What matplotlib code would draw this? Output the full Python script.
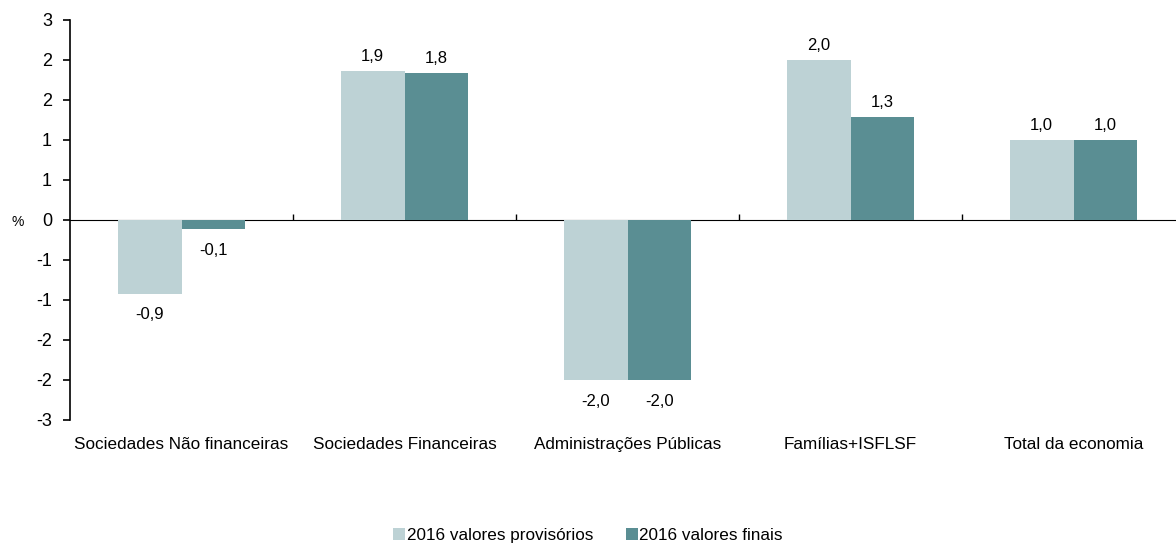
import numpy as np
import matplotlib.pyplot as plt
from matplotlib.ticker import FuncFormatter

plt.rcParams['font.family'] = ['Liberation Sans', 'DejaVu Sans']

categories = ["Sociedades Não financeiras", "Sociedades Financeiras",
              "Administrações Públicas", "Famílias+ISFLSF", "Total da economia"]
provisorios = [-0.92, 1.86, -2.0, 2.0, 1.0]
finais = [-0.11, 1.84, -2.0, 1.29, 1.0]
series_names = ["2016 valores provisórios", "2016 valores finais"]

c_light = "#BDD2D5"
c_dark = "#5A8E93"

fig = plt.figure(figsize=(11.76, 5.44), dpi=100)
# axes spans slightly past the right edge, like the original
ax = fig.add_axes([70 / 1176, 1 - 420 / 544, 1115 / 1176, 400 / 544])

x = np.arange(len(categories))
w = 0.285
b1 = ax.bar(x, provisorios, width=-w, align='edge', color=c_light)
b2 = ax.bar(x, finais, width=w, align='edge', color=c_dark)

for bars, vals in ((b1, provisorios), (b2, finais)):
    for r, v in zip(bars, vals):
        cx = r.get_x() + r.get_width() / 2
        lab = f"{v:.1f}".replace(".", ",")
        if v >= 0:
            ax.annotate(lab, (cx, v), xytext=(0, 5), textcoords='offset points',
                        ha='center', va='bottom', fontsize=12)
        else:
            ax.annotate(lab, (cx, v), xytext=(0, -10), textcoords='offset points',
                        ha='center', va='top', fontsize=12)

ax.set_xlim(-0.5, len(categories) - 0.5)
ax.set_ylim(-2.5, 2.5)
ax.set_yticks(np.arange(-2.5, 2.51, 0.5))
ax.yaxis.set_major_formatter(FuncFormatter(
    lambda v, p: str(int(np.sign(v) * np.floor(abs(v) + 0.5)))))
ax.tick_params(axis='y', direction='out', length=5, width=1.2, labelsize=13, pad=8)

ax.set_xticks(x)
ax.set_xticklabels(categories, fontsize=12.3)
ax.tick_params(axis='x', length=0, pad=12)

for s in ('top', 'right', 'bottom'):
    ax.spines[s].set_visible(False)
ax.spines['left'].set_linewidth(1.2)

# zero line with category separators
zax = ax.secondary_xaxis(0.5)
zax.set_xticks(np.arange(0.5, len(categories) - 0.5, 1))
zax.tick_params(axis='x', direction='out', length=4, width=1, labelbottom=False, labeltop=False)
zax.spines['bottom'].set_linewidth(1)

fig.text(18 / 1176, 1 - 222 / 544, "%", fontsize=10, ha='center', va='center')

fig.legend([b1, b2], series_names, loc='lower center', bbox_to_anchor=(0.5, -0.026),
           ncol=2, frameon=False, fontsize=12.3, handlelength=0.7, handleheight=0.7,
           handletextpad=0.1, columnspacing=1.9)

fig.savefig("out.png", dpi=100)
